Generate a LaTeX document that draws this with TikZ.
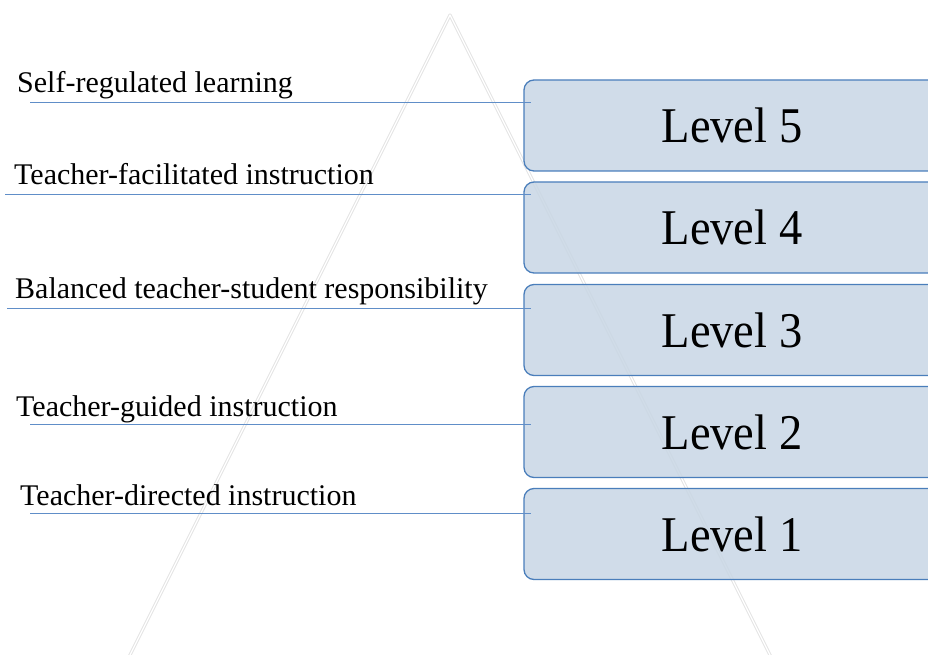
\documentclass[tikz,border=0pt]{standalone}
\usepackage{fontspec}
\setmainfont{Liberation Serif}
\newfontfamily\levelfont[FakeStretch=0.93]{Liberation Serif}
\usetikzlibrary{calc}
\definecolor{boxfill}{RGB}{200,214,229}
\definecolor{boxline}{RGB}{74,126,187}
\definecolor{linkline}{RGB}{96,142,200}
\definecolor{trihalo}{RGB}{228,228,228}
\begin{document}
\begin{tikzpicture}[x=1pt,y=-1pt]

        \useasboundingbox (0,0) rectangle (928,655);
        \clip (0,0) rectangle (928,655);

        % faint pyramid behind everything
        \coordinate (top) at (450,15);
        \coordinate (bl)  at (105,705);
        \coordinate (br)  at (795,705);
        \draw[trihalo, line width=3.2pt, line join=round] (bl) -- (top) -- (br);
        \draw[white, line width=1.2pt, line join=round] (bl) -- (top) -- (br);

        \begin{scope}[every node/.style={draw=boxline, line width=1.3pt, fill=boxfill,
            fill opacity=.85, text opacity=1, draw opacity=1,
            rounded corners=10pt, minimum width=416pt, minimum height=91pt,
            font=\levelfont\fontsize{50}{60}\selectfont}]
          \node (5) at (732,125.5) {Level 5};
          \node (4) at (732,227.5) {Level 4};
          \node (3) at (732,330)   {Level 3};
          \node (2) at (732,432)   {Level 2};
          \node (1) at (732,534)   {Level 1};
        \end{scope}

        \begin{scope}[every node/.style={anchor=base west, inner sep=0pt,
            font=\fontsize{30}{36}\selectfont}]
          \node (t5) at (17,93)  {Self-regulated learning};
          \node (t4) at (14,185) {Teacher-facilitated instruction};
          \node (t3) at (15,298) {Balanced teacher-student responsibility};
          \node (t2) at (16,416) {Teacher-guided instruction};
          \node (t1) at (20,505) {Teacher-directed instruction};
        \end{scope}

        \coordinate (s5) at (30,103);
        \coordinate (s4) at (5,194);
        \coordinate (s3) at (7,308);
        \coordinate (s2) at (30,424);
        \coordinate (s1) at (30,513);

        \begin{scope}[every edge/.style={draw=linkline, line width=1pt}]
          \path (s5) edge ($(5.west |- s5)+(8,0)$);
          \path (s4) edge ($(4.west |- s4)+(8,0)$);
          \path (s3) edge ($(3.west |- s3)+(8,0)$);
          \path (s2) edge ($(2.west |- s2)+(8,0)$);
          \path (s1) edge ($(1.west |- s1)+(8,0)$);
        \end{scope}

      \end{tikzpicture}
\end{document}
